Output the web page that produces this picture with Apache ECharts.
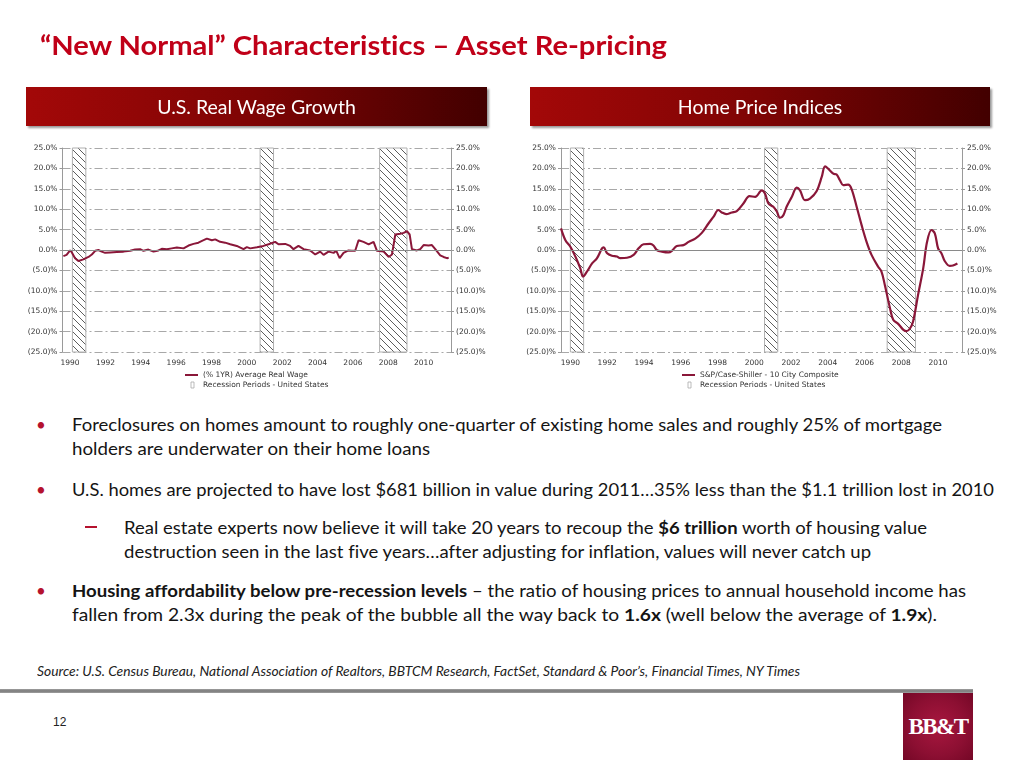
<!DOCTYPE html>
<html><head><meta charset="utf-8">
<script src="https://cdn.jsdelivr.net/npm/echarts@6/dist/echarts.min.js"></script>
<style>
html,body{margin:0;padding:0;background:#fff;width:1024px;height:768px;overflow:hidden;font-family:Lato,"Noto Sans",sans-serif;font-variant-ligatures:none;font-feature-settings:"liga" 0,"dlig" 0;}
#chart{position:absolute;left:0;top:0;width:1024px;height:400px;}
.t{position:absolute;white-space:nowrap;transform-origin:0 50%;color:#141414;font-size:17.5px;line-height:24px;}
.dot{position:absolute;color:#B5122E;font-size:17px;line-height:24px;}
.bar{position:absolute;top:87px;height:39px;background:linear-gradient(90deg,#a30808 0%,#7e0404 50%,#420000 100%);box-shadow:2px 2px 2px #9a9a9a;color:#fff;font-size:19.5px;line-height:39px;text-align:center;z-index:5;}
</style></head>
<body>
<div id="chart"></div>
<div class="t" id="title" data-w="627" style="left:40px;top:30px;font-size:27px;line-height:30px;font-weight:bold;color:#C00018;">“New Normal” Characteristics – Asset Re-pricing</div>
<div class="bar" style="left:26px;width:461px;">U.S. Real Wage Growth</div>
<div class="bar" style="left:530px;width:460px;">Home Price Indices</div>

<div class="dot" style="left:36px;top:413px;">•</div>
<div class="t" data-w="870" style="left:72px;top:413px;">Foreclosures on homes amount to roughly one-quarter of existing home sales and roughly 25% of mortgage</div>
<div class="t" data-w="358" style="left:72px;top:437px;">holders are underwater on their home loans</div>
<div class="dot" style="left:36px;top:478px;">•</div>
<div class="t" data-w="922" style="left:72px;top:478px;">U.S. homes are projected to have lost $681 billion in value during 2011…35% less than the $1.1 trillion lost in 2010</div>
<div style="position:absolute;left:85px;top:526px;width:12px;height:1.6px;background:#B5122E;"></div>
<div class="t" data-w="803" style="left:124px;top:516px;">Real estate experts now believe it will take 20 years to recoup the <b>$6 trillion</b> worth of housing value</div>
<div class="t" data-w="747" style="left:124px;top:540px;">destruction seen in the last five years…after adjusting for inflation, values will never catch up</div>
<div class="dot" style="left:36px;top:579px;">•</div>
<div class="t" data-w="894" style="left:72px;top:579px;"><b>Housing affordability below pre-recession levels</b> – the ratio of housing prices to annual household income has</div>
<div class="t" data-w="865" style="left:72px;top:603px;">fallen from 2.3x during the peak of the bubble all the way back to <b>1.6x</b> (well below the average of <b>1.9x</b>).</div>
<div class="t" data-w="763" style="left:37px;top:663px;font-size:12.5px;line-height:18px;font-style:italic;color:#222;">Source: U.S. Census Bureau, National Association of Realtors, BBTCM Research, FactSet, Standard &amp; Poor’s, Financial Times, NY Times</div>

<div style="position:absolute;left:0;top:689px;width:973px;height:4px;background:linear-gradient(#a0a0a0,#7a7a7a,#a0a0a0);"></div>
<div style="position:absolute;left:53px;top:714px;font-family:'Liberation Sans',Arial,sans-serif;font-size:12px;line-height:16px;color:#222;">12</div>
<div style="position:absolute;left:903px;top:693px;width:70px;height:67px;background:radial-gradient(circle,#a8173f 0%,#8c0f32 60%,#740726 100%);color:#fff;font-family:'Liberation Serif','DejaVu Serif',serif;font-weight:bold;font-size:23px;letter-spacing:-1.6px;line-height:67px;text-align:center;">BB&amp;T</div>

<script>
// ---- data ----
const xTickYears = [1990,1992,1994,1996,1998,2000,2002,2004,2006,2008,2010];
const yTickValues = [-25,-20,-15,-10,-5,0,5,10,15,20,25];

const wageYears = [1989.62,1989.8,1990.0,1990.1,1990.28,1990.47,1990.75,1991.04,1991.23,1991.42,1991.6,1991.79,1991.98,1992.26,1992.64,1993.02,1993.4,1993.68,1993.96,1994.15,1994.43,1994.72,1995.0,1995.19,1995.47,1995.75,1996.04,1996.42,1996.7,1996.98,1997.26,1997.55,1997.74,1998.02,1998.21,1998.49,1998.77,1999.06,1999.43,1999.81,2000.0,2000.19,2000.57,2000.94,2001.23,2001.6,2001.79,2002.17,2002.45,2002.64,2002.92,2003.21,2003.58,2003.87,2004.15,2004.34,2004.62,2004.91,2005.06,2005.25,2005.47,2005.75,2005.94,2006.13,2006.32,2006.6,2006.89,2007.17,2007.36,2007.74,2008.02,2008.21,2008.4,2008.68,2008.87,2009.06,2009.21,2009.34,2009.62,2009.81,2010.0,2010.28,2010.47,2010.66,2010.94,2011.13,2011.32,2011.42];
const wageValues = [-1.5,-1.2,-0.1,-0.6,-2.0,-2.7,-2.3,-1.7,-1.1,-0.2,0.0,-0.4,-0.7,-0.6,-0.5,-0.4,-0.2,0.1,0.2,-0.2,0.1,-0.4,-0.1,0.3,0.2,0.4,0.6,0.4,1.1,1.5,1.8,2.4,2.8,2.4,2.6,2.0,1.8,1.4,1.0,0.2,0.7,0.4,0.7,1.0,1.4,2.0,1.4,1.5,1.0,0.2,1.0,0.2,-0.1,-1.1,-0.4,-1.2,-0.4,-0.7,-0.2,-2.0,-0.7,-0.1,-0.2,-0.2,2.4,2.0,1.4,2.0,-0.2,-0.4,-1.7,-1.1,3.8,4.0,4.2,4.6,3.8,0.2,-0.1,0.2,1.2,1.1,1.2,0.2,-1.3,-1.7,-2.0,-1.9];

const hpiYears = [1989.49,1989.73,1990.0,1990.27,1990.54,1990.69,1990.9,1991.18,1991.45,1991.72,1991.81,1992.0,1992.26,1992.53,1992.71,1993.08,1993.44,1993.71,1993.98,1994.34,1994.52,1994.7,1994.98,1995.34,1995.52,1995.79,1996.15,1996.43,1996.79,1997.15,1997.51,1997.78,1998.05,1998.24,1998.47,1998.78,1999.05,1999.41,1999.74,2000.05,2000.41,2000.59,2000.77,2001.04,2001.22,2001.4,2001.58,2001.76,2002.04,2002.31,2002.49,2002.76,2003.03,2003.39,2003.67,2003.85,2004.03,2004.3,2004.48,2004.66,2004.84,2005.11,2005.29,2005.57,2005.84,2006.11,2006.38,2006.74,2006.92,2007.1,2007.38,2007.56,2007.83,2008.1,2008.28,2008.46,2008.64,2008.91,2009.19,2009.4,2009.64,2009.82,2010.0,2010.18,2010.36,2010.63,2010.81,2011.05];
const hpiValues = [5.3,2.4,0.8,-1.6,-4.5,-6.5,-5.3,-3.3,-2.0,0.4,0.65,-0.8,-1.4,-1.6,-2.0,-1.9,-1.2,0.4,1.4,1.5,1.1,0.0,-0.4,-0.6,-0.2,1.0,1.2,2.0,2.8,4.2,6.5,8.1,9.8,9.2,8.8,9.2,9.5,11.4,13.2,13.0,14.6,13.8,11.4,10.6,9.5,7.9,8.5,10.6,13.0,15.3,14.6,12.2,12.6,14.4,17.9,20.5,19.9,18.7,18.5,17.1,15.9,16.0,15.0,10.6,6.1,2.0,-1.2,-4.1,-5.3,-8.5,-14.2,-17.1,-18.1,-19.5,-19.9,-19.3,-17.5,-11.0,-4.5,2.0,4.9,4.1,0.4,-0.8,-2.7,-3.9,-3.8,-3.3];

const wageRecessionStarts = [1990.13, 2000.75, 2007.51];
const wageRecessionEnds   = [1990.89, 2001.51, 2009.06];
const hpiRecessionStarts  = [1990.0, 2000.56, 2007.23];
const hpiRecessionEnds    = [1990.72, 2001.28, 2008.77];

const wageName = '(% 1YR) Average Real Wage';
const hpiName = 'S&P/Case-Shiller - 10 City Composite';
const recessionName = 'Recession Periods - United States';

// ---- styling helpers ----
const LINE = '#8a1739';
const LBL = {fontSize:7.5, color:'#333', fontFamily:'DejaVu Sans'};
function fmt(v){ return v < 0 ? '(' + (-v).toFixed(1) + ')%' : v.toFixed(1) + '%'; }
function hatch(){
  const s = 7;
  const c = document.createElement('canvas'); c.width = s; c.height = s;
  const g = c.getContext('2d');
  g.fillStyle = '#fff'; g.fillRect(0,0,s,s);
  g.strokeStyle = '#333'; g.lineWidth = 0.8;
  g.beginPath();
  g.moveTo(-1,-1); g.lineTo(s+1,s+1);
  g.moveTo(-1,s-1); g.lineTo(1,s+1);
  g.moveTo(s-1,-1); g.lineTo(s+1,1);
  g.stroke();
  return c;
}
const pattern = {image: hatch(), repeat: 'repeat'};

function yAxes(gi){
  const base = {gridIndex:gi, type:'value', min:-25, max:25, interval:5,
    axisLine:{show:true, lineStyle:{color:'#9a9a9a'}},
    axisTick:{show:true, length:3, lineStyle:{color:'#9a9a9a'}},
    axisLabel:Object.assign({formatter:fmt, margin:5}, LBL)};
  return [
    Object.assign({}, base, {position:'left', splitLine:{show:true, lineStyle:{color:'#a8a8a8', width:1, type:[8,3,2,3]}}}),
    Object.assign({}, base, {position:'right', splitLine:{show:false}})
  ];
}
function xAxis(gi, min, max){
  return {gridIndex:gi, type:'value', min:min, max:max,
    axisLine:{show:false}, axisTick:{show:false}, splitLine:{show:false},
    axisLabel:Object.assign({customValues:xTickYears, margin:7, formatter:v=>String(Math.round(v))}, LBL)};
}
function bands(starts, ends){
  return starts.map((s,i)=>[{xAxis:s},{xAxis:ends[i]}]);
}
function pairs(xs, ys){ return xs.map((x,i)=>[x, ys[i]]); }

function recessionSeries(xi, yi, starts, ends){
  return {name:recessionName, type:'line', xAxisIndex:xi, yAxisIndex:yi, data:[], z:1, silent:true,
    markArea:{silent:true, itemStyle:{color:pattern, borderColor:'#b0b0b0', borderWidth:1}, data:bands(starts, ends)},
    markLine:{silent:true, symbol:['none','none'], label:{show:false}, lineStyle:{color:'#8a8a8a', type:'solid', width:1}, data:[{yAxis:0}]}};
}

function legendGraphics(x, name){
  return [
    {type:'line', shape:{x1:x, y1:375, x2:x+13, y2:375}, style:{stroke:LINE, lineWidth:2}},
    {type:'text', x:x+18, y:375, style:{text:name, fontSize:7.5, fontFamily:'DejaVu Sans', fill:'#333', verticalAlign:'middle'}},
    {type:'rect', shape:{x:x+6, y:382, width:3, height:6}, style:{fill:'#fff', stroke:'#aaa', lineWidth:0.8}},
    {type:'text', x:x+18, y:385.5, style:{text:recessionName, fontSize:7.5, fontFamily:'DejaVu Sans', fill:'#333', verticalAlign:'middle'}}
  ];
}

const chart = echarts.init(document.getElementById('chart'), null, {renderer:'canvas'});
const ya = yAxes(0), yb = yAxes(1);
chart.setOption({
  animation:false,
  grid:[
    {left:62.5, top:148, width:388.5, height:204, outerBoundsMode:'none', containLabel:false},
    {left:561, top:148, width:401, height:204, outerBoundsMode:'none', containLabel:false}
  ],
  xAxis:[xAxis(0, 1989.57, 2011.55), xAxis(1, 1989.49, 2011.3)],
  yAxis:[ya[0], ya[1], yb[0], yb[1]],
  graphic:[].concat(legendGraphics(185, wageName), legendGraphics(682, hpiName)),
  series:[
    recessionSeries(0, 0, wageRecessionStarts, wageRecessionEnds),
    {name:wageName, type:'line', xAxisIndex:0, yAxisIndex:0, z:3, data:pairs(wageYears, wageValues),
      symbol:'none', lineStyle:{color:LINE, width:2}, itemStyle:{color:LINE}},
    recessionSeries(1, 2, hpiRecessionStarts, hpiRecessionEnds),
    {name:hpiName, type:'line', xAxisIndex:1, yAxisIndex:2, z:3, data:pairs(hpiYears, hpiValues),
      symbol:'none', smooth:0.35, lineStyle:{color:LINE, width:2.2}, itemStyle:{color:LINE}}
  ]
});

function fit(){
  document.querySelectorAll('[data-w]').forEach(el=>{
    el.style.transform = 'none';
    const w = el.getBoundingClientRect().width;
    const target = parseFloat(el.getAttribute('data-w'));
    if (w > 0) el.style.transform = 'scaleX(' + (target / w).toFixed(4) + ')';
  });
}
fit();
if (document.fonts && document.fonts.ready) document.fonts.ready.then(fit);
</script>
</body></html>
